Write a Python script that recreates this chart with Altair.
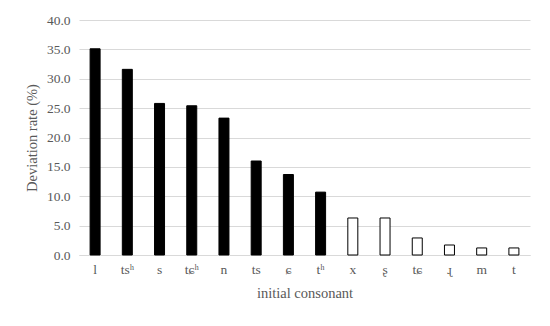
import altair as alt
import pandas as pd

consonants = ["l", "tsʰ", "s", "tɕʰ", "n", "ts", "ɕ", "tʰ", "x", "ʂ", "tɕ", "ɻ", "m", "t"]
rates = [35.1, 31.6, 25.8, 25.4, 23.3, 16.0, 13.7, 10.7, 6.3, 6.3, 2.9, 1.7, 1.2, 1.2]
groups = ["high"] * 8 + ["low"] * 6

df = pd.DataFrame({"consonant": consonants, "rate": rates, "group": groups})

FONT = "Liberation Serif"
common = dict(labelFont=FONT, titleFont=FONT, labelFontSize=13.5, titleFontSize=14.5,
              labelColor="#595959", titleColor="#595959", titleFontWeight="normal")

chart = alt.Chart(df).mark_bar(size=10, stroke="black", strokeWidth=1).encode(
    x=alt.X("consonant:N", sort=consonants, title="initial consonant",
            scale=alt.Scale(paddingInner=0.0, paddingOuter=0.0),
            axis=alt.Axis(labelAngle=0, ticks=False, domainColor="#d9d9d9",
                          labelPadding=7, titlePadding=11, **common)),
    y=alt.Y("rate:Q", title="Deviation rate (%)",
            scale=alt.Scale(domain=[0, 40]),
            axis=alt.Axis(values=[0, 5, 10, 15, 20, 25, 30, 35, 40], format=".1f",
                          domain=False, ticks=False, labelPadding=9, titlePadding=7,
                          gridColor="#d9d9d9", **common)),
    fill=alt.Fill("group:N", scale=alt.Scale(domain=["high", "low"], range=["black", "white"]),
                  legend=None),
).properties(
    width=451, height=235,
    autosize=alt.AutoSizeParams(type="none"),
    padding={"left": 71, "top": 12, "right": 12, "bottom": 60},
    background="white",
).configure_view(stroke=None)

chart.save("out.html", embed_options={"renderer": "svg", "actions": False})
